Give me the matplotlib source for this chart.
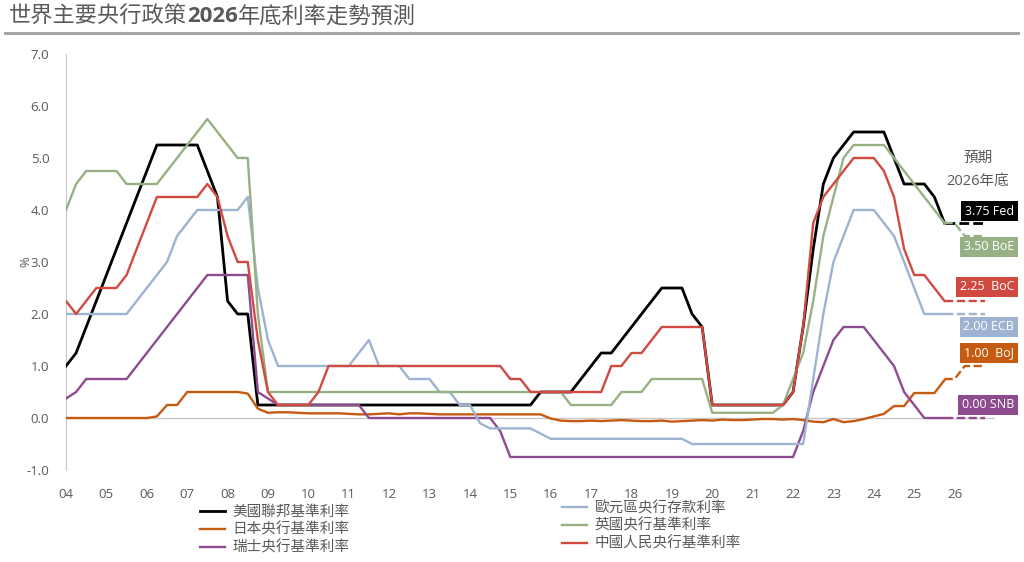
import numpy as np
import matplotlib
matplotlib.use("Agg")
import matplotlib.pyplot as plt
from matplotlib.lines import Line2D

plt.rcParams['font.family'] = ['Open Sans', 'Noto Sans CJK TC', 'DejaVu Sans']

# quarterly points, 2004Q1 ... 2025Q4 (88), forecast 2025Q4 ... 2026Q4
year_labels = ['04', '05', '06', '07', '08', '09', '10', '11', '12', '13', '14', '15',
               '16', '17', '18', '19', '20', '21', '22', '23', '24', '25', '26']

fed = ([1.0, 1.25, 1.75, 2.25, 2.75, 3.25, 3.75, 4.25, 4.75, 5.25]
       + [5.25] * 4 + [4.75, 4.25, 2.25, 2.0, 2.0]
       + [0.25] * 28 + [0.5] * 4
       + [0.75, 1.0, 1.25, 1.25, 1.5, 1.75, 2.0, 2.25, 2.5, 2.5, 2.5, 2.0, 1.75]
       + [0.25] * 8
       + [0.5, 1.75, 3.25, 4.5, 5.0, 5.25, 5.5, 5.5, 5.5, 5.5, 5.0, 4.5, 4.5, 4.5, 4.25, 3.75])

boj = ([0.0] * 9 + [0.03, 0.25, 0.25] + [0.5] * 6
       + [0.47, 0.18, 0.1, 0.11, 0.11, 0.1, 0.09, 0.09, 0.09, 0.09]
       + [0.08, 0.07, 0.07, 0.08, 0.09, 0.07, 0.09, 0.09, 0.08, 0.07,
          0.07, 0.07, 0.07, 0.07, 0.07, 0.07, 0.07, 0.07, 0.07, 0.07]
       + [-0.01, -0.05, -0.06, -0.06, -0.05, -0.06, -0.05, -0.04, -0.05, -0.06,
          -0.06, -0.05, -0.07, -0.06, -0.05, -0.04, -0.05, -0.03, -0.04, -0.04,
          -0.03, -0.02, -0.02, -0.03, -0.02, -0.04, -0.07, -0.08, -0.02, -0.08,
          -0.06, -0.02, 0.03, 0.08, 0.23, 0.23, 0.48, 0.48, 0.48, 0.73])

snb = ([0.375, 0.5] + [0.75] * 5 + [1.0, 1.25, 1.5, 1.75, 2.0, 2.25, 2.5]
       + [2.75] * 5 + [0.5, 0.375] + [0.25] * 9 + [0.0] * 13 + [-0.25]
       + [-0.75] * 29 + [-0.25, 0.5, 1.0, 1.5] + [1.75] * 3
       + [1.5, 1.25, 1.0, 0.5, 0.25] + [0.0] * 3)

ecb = ([2.0] * 7 + [2.25, 2.5, 2.75, 3.0, 3.5, 3.75] + [4.0] * 5
       + [4.25, 2.5, 1.5] + [1.0] * 8 + [1.25, 1.5] + [1.0] * 3
       + [0.75] * 3 + [0.5] * 2 + [0.25] * 2 + [-0.1] + [-0.2] * 5 + [-0.3]
       + [-0.4] * 14 + [-0.5] * 12 + [0.75, 2.0, 3.0, 3.5] + [4.0] * 3
       + [3.75, 3.5, 3.0, 2.5] + [2.0] * 3)

boe = ([4.0, 4.5] + [4.75] * 4 + [4.5] * 4
       + [4.75, 5.0, 5.25, 5.5, 5.75, 5.5, 5.25, 5.0, 5.0, 2.0]
       + [0.5] * 30 + [0.25] * 5 + [0.5] * 3 + [0.75] * 6 + [0.1] * 7
       + [0.25, 0.75, 1.25, 2.25, 3.5, 4.25, 5.0] + [5.25] * 4
       + [5.0, 4.75, 4.5, 4.25, 4.0, 3.75])

pboc = ([2.25, 2.0, 2.25] + [2.5] * 3 + [2.75, 3.25, 3.75] + [4.25] * 5
        + [4.5, 4.25, 3.5, 3.0, 3.0, 1.5, 0.5] + [0.25] * 4 + [0.5]
        + [1.0] * 18 + [0.75] * 2 + [0.5] * 8 + [1.0, 1.0, 1.25, 1.25, 1.5]
        + [1.75] * 5 + [0.25] * 8 + [0.5, 1.75, 3.75, 4.25, 4.5, 4.75]
        + [5.0] * 3 + [4.75, 4.25, 3.25, 2.75, 2.75, 2.5, 2.25])

fed_f = [3.75, 3.75, 3.75, 3.75, 3.75]
boe_f = [3.75, 3.75, 3.5, 3.5, 3.5]
pboc_f = [2.25, 2.25, 2.25, 2.25, 2.25]
ecb_f = [2.0, 2.0, 2.0, 2.0, 2.0]
boj_f = [0.75, 0.75, 1.0, 1.0, 1.0]
snb_f = [0.0, 0.0, 0.0, 0.0, 0.0]

names = ['美國聯邦基準利率', '日本央行基準利率', '瑞士央行基準利率',
         '歐元區央行存款利率', '英國央行基準利率', '中國人民央行基準利率']
tags = ['3.75 Fed', '1.00  BoJ', '0.00 SNB', '2.00 ECB', '3.50 BoE', '2.25  BoC']
tag_y = [3.98, 1.25, 0.25, 1.75, 3.29, 2.52]
colors = ['#000000', '#C55A11', '#8E4B8E', '#9DB3D1', '#98B184', '#D04A42']
hist = [fed, boj, snb, ecb, boe, pboc]
fcst = [fed_f, boj_f, snb_f, ecb_f, boe_f, pboc_f]

x = np.arange(len(fed))
xf = np.arange(len(fed) - 1, len(fed) - 1 + len(fed_f))

fig = plt.figure(figsize=(10.24, 5.62), dpi=100)
ax = fig.add_axes([66 / 1024, 1 - 470 / 562, (995 - 66) / 1024, 416 / 562])

ax.axhline(0, color='#c8c8c8', lw=1.0, zorder=1)
lines = []
for vals, fv, c in zip(hist, fcst, colors):
    lw = 2.0 if c == '#000000' else 1.7
    ln, = ax.plot(x, vals, color=c, lw=lw, zorder=3)
    ax.plot(xf, fv, color=c, lw=lw, ls=(0, (3.5, 1.5)), zorder=3)
    lines.append(ln)

ax.set_xlim(0, 92)
ax.set_ylim(-1, 7)
ax.set_xticks(np.arange(0, 89, 4))
ax.set_xticklabels(year_labels)
ax.set_yticks(np.arange(-1, 8, 1))
ax.set_yticklabels(['%.1f' % v for v in np.arange(-1, 8, 1)])
ax.tick_params(axis='both', length=0, labelsize=9.5, labelcolor='#595959')
ax.tick_params(axis='x', pad=13)
ax.tick_params(axis='y', pad=12)
for s in ['top', 'right', 'bottom']:
    ax.spines[s].set_visible(False)
ax.spines['left'].set_color('#c8c8c8')
ax.set_ylabel('%', color='#595959', fontsize=9.5, labelpad=-4)

for t, ty, c in zip(tags, tag_y, colors):
    ax.text(93.9, ty, t, ha='right', va='center', color='white', fontsize=9,
            clip_on=False, zorder=5,
            bbox=dict(boxstyle='square,pad=0.3', fc=c, ec='none'))
ax.text(90.3, 5.0, '預期', ha='center', va='center', color='#595959', fontsize=10.5)
ax.text(90.3, 4.55, '2026年底', ha='center', va='center', color='#595959', fontsize=10.5)

leg_kw = dict(frameon=False, fontsize=10.5, handlelength=1.7, handletextpad=0.55,
              labelspacing=0.2, borderpad=0, borderaxespad=0, labelcolor='#595959')
fig.legend(lines[:3], names[:3], loc='upper left',
           bbox_to_anchor=(200 / 1024, 1 - 505 / 562), **leg_kw)
fig.legend(lines[3:], names[3:], loc='upper left',
           bbox_to_anchor=(562 / 1024, 1 - 501 / 562), **leg_kw)

# title with bold year
fig.canvas.draw()
r = fig.canvas.get_renderer()
parts = [('世界主要央行政策', 'normal'), ('2026', 'bold'), ('年底利率走勢預測', 'normal')]
xpos = 9 / 1024
for s, w in parts:
    t = fig.text(xpos, 1 - 17 / 562, s, fontsize=16, color='#595959',
                 fontweight=w, va='center', ha='left')
    bb = t.get_window_extent(renderer=r)
    xpos += bb.width / 1024
fig.add_artist(Line2D([5 / 1024, 1018 / 1024], [1 - 33 / 562, 1 - 33 / 562],
                      color='#a6a6a6', lw=2.2))

fig.savefig('out.png', dpi=100)
